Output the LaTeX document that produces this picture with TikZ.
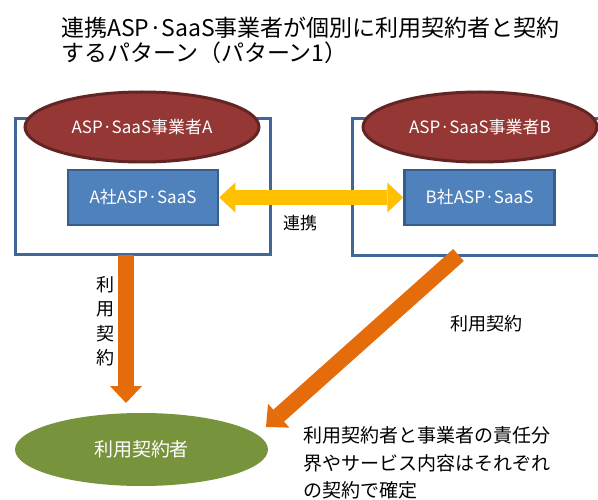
\documentclass[tikz,border=0pt]{standalone}
\usepackage{fontspec}
\setmainfont{Noto Sans CJK JP}
\usetikzlibrary{arrows.meta,shapes.geometric}
\definecolor{frameblue}{HTML}{41679A}
\definecolor{ovalfill}{HTML}{953735}
\definecolor{ovalline}{HTML}{632523}
\definecolor{boxfill}{HTML}{4F81BD}
\definecolor{boxline}{HTML}{385D8A}
\definecolor{yarrowc}{HTML}{FFC000}
\definecolor{oarrowc}{HTML}{E46C0A}
\definecolor{greenc}{HTML}{77933C}
\tikzset{
  frame/.style={draw=frameblue, line width=3pt},
  oval/.style={ellipse, draw=ovalline, fill=ovalfill, line width=3pt, inner sep=0pt,
    minimum width=234pt, minimum height=70pt, text=white, font=\fontsize{17}{20}\selectfont},
  svcbox/.style={rectangle, draw=boxline, fill=boxfill, line width=2.5pt, inner sep=0pt,
    minimum width=150pt, minimum height=55pt, text=white, font=\fontsize{17}{20}\selectfont},
  userov/.style={ellipse, fill=greenc, inner sep=0pt, minimum width=253pt, minimum height=73pt,
    text=white, font=\fontsize{19}{22}\selectfont},
  yarrow/.style={draw=yarrowc, line width=15pt,
    {Triangle[width=30pt,length=16pt,line width=0pt]}-{Triangle[width=30pt,length=16pt,line width=0pt]}},
  oarrow/.style={draw=oarrowc, line width=16pt, -{Triangle[width=32pt,length=17pt,line width=0pt]}},
  label/.style={inner sep=0pt, text=black, font=\fontsize{17}{20}\selectfont},
  titletxt/.style={inner sep=0pt, anchor=west, text=black, font=\fontsize{23}{26}\selectfont},
  notetxt/.style={inner sep=0pt, anchor=west, text=black, font=\fontsize{19}{22}\selectfont}
}
\begin{document}
\begin{tikzpicture}[x=1pt,y=-1pt]
\useasboundingbox[fill=white] (0,0) rectangle (598,500);
% title
\node[titletxt] (title1) at (61,28) {連携ASP·SaaS事業者が個別に利用契約者と契約};
\node[titletxt] (title2) at (61,53) {するパターン（パターン1）};
% frames
\draw[frame] (15,119) rectangle (270,255);
\draw[frame] (352,119) rectangle (650,256);
% ellipses
\node[oval] (opA) at (142,127) {ASP·SaaS事業者A};
\node[oval] (opB) at (480,127) {ASP·SaaS事業者B};
% service boxes
\node[svcbox] (svA) at (143,197.5) {A社ASP·SaaS};
\node[svcbox] (svB) at (479.5,197.5) {B社ASP·SaaS};
% yellow link
\draw[yarrow] (svA.east) -- (svB.west);
\node[label] (link) at (300,223) {連携};
% user
\node[userov] (user) at (141.5,449.5) {利用契約者};
% orange arrows
\coordinate (vA) at (126,255);
\coordinate (vAend) at (126,403);
\draw[oarrow] (vA) -- (vAend);
\coordinate (dB) at (458.5,255);
\coordinate (dBend) at (266,427);
\draw[oarrow] (dB) -- (dBend);
\node[label, align=center, font=\fontsize{18}{24.5}\selectfont] (lblA) at (105,321) {利\\用\\契\\約};
\node[label, font=\fontsize{18}{21}\selectfont] (lblB) at (486,324) {利用契約};
% note
\node[notetxt] (note1) at (303,435) {利用契約者と事業者の責任分};
\node[notetxt] (note2) at (303,463) {界やサービス内容はそれぞれ};
\node[notetxt] (note3) at (303,490) {の契約で確定};
\end{tikzpicture}
\end{document}
